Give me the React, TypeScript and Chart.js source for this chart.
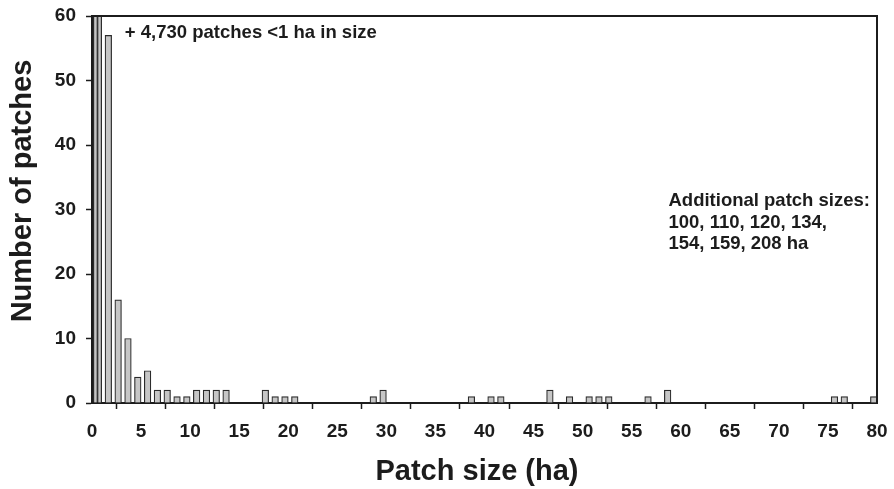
import React, { useEffect, useRef } from "react";
import { Chart, registerables } from "chart.js";

Chart.register(...registerables);

// Histogram bins: upper bound of each 1-ha size class and its patch count
const binUpperBounds = [2, 3, 4, 5, 6, 7, 8, 9, 10, 11, 12, 13, 14, 18, 19, 20, 21, 29, 30, 39, 41, 42, 47, 49, 51, 52, 53, 57, 59, 76, 77, 80];
const binCounts = [57, 16, 10, 4, 5, 2, 2, 1, 1, 2, 2, 2, 2, 2, 1, 1, 1, 1, 2, 1, 1, 1, 2, 1, 1, 1, 1, 1, 2, 1, 1, 1];

// Sub-hectare classes (off the top of the axis)
const smallBinCentres = [0.35, 0.77];
const smallBinCounts = [4730, 64];

const yTicks = [0, 10, 20, 30, 40, 50, 60];
const xTicks = [0, 5, 10, 15, 20, 25, 30, 35, 40, 45, 50, 55, 60, 65, 70, 75, 80];

const xTitle = "Patch size (ha)";
const yTitle = "Number of patches";
const noteTop = "+ 4,730 patches <1 ha in size";
const noteSide = ["Additional patch sizes:", "100, 110, 120, 134,", "154, 159, 208 ha"];

const FONT = "'Liberation Sans', Arial, Helvetica, sans-serif";
const INK = "#1c1c1c";

const framePlugin = {
  id: "frameAndNotes",
  afterDraw(chart: any) {
    const { ctx, chartArea, scales } = chart;
    const x = scales.x;
    const y = scales.y;
    ctx.save();
    ctx.strokeStyle = INK;
    ctx.lineWidth = 2;
    ctx.beginPath();
    ctx.moveTo(chartArea.left, chartArea.top);
    ctx.lineTo(chartArea.right, chartArea.top);
    ctx.lineTo(chartArea.right, chartArea.bottom);
    ctx.stroke();

    ctx.fillStyle = INK;
    ctx.textBaseline = "middle";
    ctx.textAlign = "left";
    ctx.font = `bold 18.5px ${FONT}`;
    ctx.fillText(noteTop, x.getPixelForValue(3.35), y.getPixelForValue(57.4));

    const sx = x.getPixelForValue(58.75);
    const sy = y.getPixelForValue(31.3);
    noteSide.forEach((line, i) => ctx.fillText(line, sx, sy + i * 21.5));

    // axis titles
    ctx.font = `bold 29px ${FONT}`;
    ctx.textAlign = "center";
    ctx.fillText(xTitle, 477, 472);
    ctx.translate(23, 191);
    ctx.rotate(-Math.PI / 2);
    ctx.fillText(yTitle, 0, 0);
    ctx.restore();
  },
};

export default function App() {
  const canvasRef = useRef<HTMLCanvasElement | null>(null);

  useEffect(() => {
    const canvas = canvasRef.current;
    if (!canvas) return;
    const chart = new Chart(canvas, {
      type: "bar",
      data: {
        datasets: [
          {
            data: binUpperBounds.map((b, i) => ({ x: b - 0.335, y: binCounts[i] })),
            backgroundColor: "#c6c6c6",
            borderColor: "#2a2a2a",
            borderWidth: 1.2,
            barThickness: 6.6,
            grouped: false,
          } as any,
          {
            data: smallBinCentres.map((c, i) => ({ x: c, y: smallBinCounts[i] })),
            backgroundColor: "#c6c6c6",
            borderColor: "#2a2a2a",
            borderWidth: 1.2,
            barThickness: 4.2,
            grouped: false,
          } as any,
        ],
      },
      options: {
        animation: false,
        responsive: false,
        devicePixelRatio: 1,
        events: [],
        layout: { padding: { top: 16, right: 17, left: 0, bottom: 0 } },
        plugins: { legend: { display: false }, tooltip: { enabled: false } },
        scales: {
          x: {
            type: "linear",
            min: 0,
            max: 80,
            offset: false,
            afterBuildTicks: (s: any) => {
              s.ticks = xTicks.map((v) => ({ value: v }));
            },
            afterFit: (s: any) => {
              s.height = 86;
              s.paddingLeft = 0;
              s.paddingRight = 0;
            },
            grid: {
              drawOnChartArea: false,
              drawTicks: true,
              tickLength: 6,
              tickColor: INK,
              tickWidth: 1.5,
            },
            border: { display: true, color: INK, width: 2 },
            ticks: {
              color: INK,
              padding: 11,
              maxRotation: 0,
              autoSkip: false,
              font: { family: FONT, size: 19, weight: "bold" },
            },
          },
          y: {
            min: 0,
            max: 60,
            afterBuildTicks: (s: any) => {
              s.ticks = yTicks.map((v) => ({ value: v }));
            },
            afterFit: (s: any) => {
              s.width = 92;
              s.paddingTop = 0;
              s.paddingBottom = 0;
            },
            grid: {
              drawOnChartArea: false,
              drawTicks: true,
              tickLength: 6,
              tickColor: INK,
              tickWidth: 1.5,
            },
            border: { display: true, color: INK, width: 2 },
            ticks: {
              color: INK,
              padding: 10,
              font: { family: FONT, size: 19, weight: "bold" },
            },
          },
        },
      },
      plugins: [framePlugin],
    } as any);
    return () => chart.destroy();
  }, []);

  return (
    <div style={{ position: "fixed", left: 0, top: 0, width: 894, height: 489, background: "#fff" }}>
      <canvas ref={canvasRef} width={894} height={489} style={{ display: "block", width: 894, height: 489 }} />
    </div>
  );
}
